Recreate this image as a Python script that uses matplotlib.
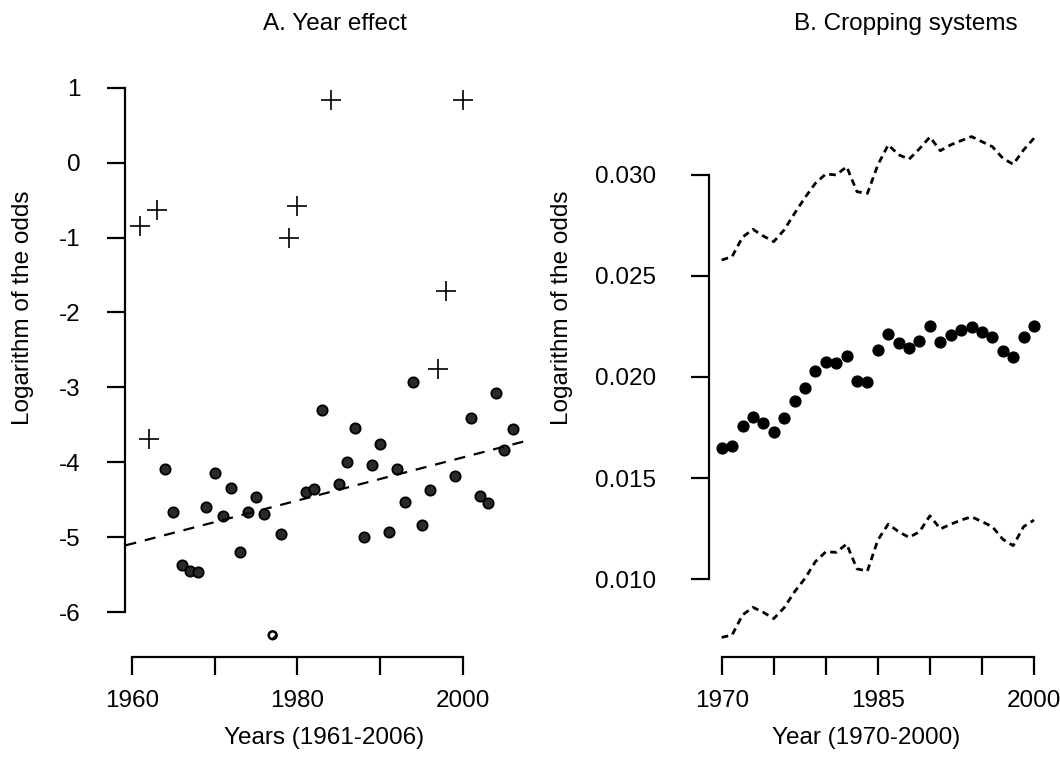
import matplotlib
matplotlib.use('Agg')
import matplotlib.pyplot as plt
import numpy as np

plt.rcParams['font.family'] = ['Liberation Sans', 'DejaVu Sans']
plt.rcParams['axes.unicode_minus'] = False

# A. Year effect (1961-2006)
years_a = np.arange(1961, 2007)
log_odds = [-0.84, -3.69, -0.63, -4.09, -4.67, -5.37, -5.45, -5.47, -4.60, -4.14,
            -4.72, -4.35, -5.20, -4.66, -4.47, -4.69, -6.31, -4.96, -1.00, -0.58,
            -4.40, -4.36, -3.30, 0.83, -4.29, -4.00, -3.54, -5.00, -4.04, -3.75,
            -4.93, -4.09, -4.53, -2.93, -4.84, -4.37, -2.75, -1.72, -4.19, 0.84,
            -3.41, -4.45, -4.54, -3.08, -3.84, -3.55]
outlier_years = [1961, 1962, 1963, 1979, 1980, 1984, 1997, 1998, 2000]
hollow_years = [1977]
trend_intercept_1960 = -5.087
trend_slope = 0.0288

# B. Cropping systems (1970-2000)
years_b = np.arange(1970, 2001)
crop_mid = [0.01650, 0.01660, 0.01756, 0.01800, 0.01774, 0.01729, 0.01796, 0.01883,
            0.01946, 0.02030, 0.02074, 0.02068, 0.02106, 0.01982, 0.01974, 0.02134,
            0.02211, 0.02167, 0.02142, 0.02178, 0.02254, 0.02173, 0.02206, 0.02231,
            0.02249, 0.02223, 0.02198, 0.02129, 0.02101, 0.02197, 0.02254]
crop_low = [0.00711, 0.00723, 0.00822, 0.00860, 0.00835, 0.00804, 0.00858, 0.00937,
            0.01003, 0.01086, 0.01135, 0.01132, 0.01173, 0.01050, 0.01040, 0.01193,
            0.01272, 0.01234, 0.01206, 0.01234, 0.01313, 0.01248, 0.01271, 0.01292,
            0.01308, 0.01284, 0.01259, 0.01197, 0.01165, 0.01259, 0.01292]
crop_up = [0.02579, 0.02596, 0.02692, 0.02731, 0.02698, 0.02670, 0.02728, 0.02810,
           0.02888, 0.02959, 0.03005, 0.03000, 0.03041, 0.02917, 0.02909, 0.03050,
           0.03149, 0.03100, 0.03078, 0.03130, 0.03188, 0.03120, 0.03149, 0.03170,
           0.03190, 0.03165, 0.03140, 0.03083, 0.03053, 0.03124, 0.03182]

W, H = 1060, 762
fig = plt.figure(figsize=(W / 100, H / 100), dpi=100)


def px_axes(left, right, top, bottom):
    return fig.add_axes([left / W, 1 - bottom / H, (right - left) / W, (bottom - top) / H])


def r_style(ax, xb, yb, ypad):
    for s in ['top', 'right']:
        ax.spines[s].set_visible(False)
    for s in ['left', 'bottom']:
        ax.spines[s].set_linewidth(1.6)
    ax.spines['bottom'].set_bounds(*xb)
    ax.spines['left'].set_bounds(*yb)
    ax.tick_params(axis='both', direction='out', length=13, width=1.6, labelsize=17.5)
    ax.tick_params(axis='x', pad=11)
    ax.tick_params(axis='y', pad=ypad)


# ---- panel A ----
axA = px_axes(125.4, 527.5, 78, 657)
yrs = np.array(years_a)
vals = np.array(log_odds)
is_out = np.isin(yrs, outlier_years)
is_hol = np.isin(yrs, hollow_years)
is_fill = ~is_out & ~is_hol

axA.plot(yrs[is_out], vals[is_out], linestyle='none', marker='+', ms=15,
         mew=1.2, color='black')
axA.plot(yrs[is_fill], vals[is_fill], linestyle='none', marker='o', ms=7.4,
         mfc='#2a2a2a', mec='black', mew=1.3)
axA.scatter(yrs[is_hol], vals[is_hol], s=32, facecolor='white', edgecolor='black',
            linewidth=1.8, hatch='///', zorder=3)
axA.axline((1960, trend_intercept_1960), slope=trend_slope, color='black',
           linewidth=1.6, dashes=(5, 4))

axA.set_xlim(1959.2, 2007.8)
axA.set_ylim(-6.6, 1.13)
axA.set_xticks([1960, 1970, 1980, 1990, 2000])
axA.set_xticklabels(['1960', '', '1980', '', '2000'])
axA.set_yticks([1, 0, -1, -2, -3, -4, -5, -6])
r_style(axA, (1960, 2000), (-6, 1), 19)

# ---- panel B ----
axB = px_axes(709.2, 1046.5, 78, 657)
axB.plot(years_b, crop_mid, linestyle='none', marker='o', ms=7.8, color='black')
axB.plot(years_b, crop_up, color='black', linewidth=2.0, dashes=(2.4, 1.7))
axB.plot(years_b, crop_low, color='black', linewidth=2.0, dashes=(2.4, 1.7))

axB.set_xlim(1968.8, 2001.2)
axB.set_ylim(0.00614, 0.0348)
axB.set_xticks([1970, 1975, 1980, 1985, 1990, 1995, 2000])
axB.set_xticklabels(['1970', '', '', '1985', '', '', '2000'])
axB.set_yticks([0.010, 0.015, 0.020, 0.025, 0.030])
axB.set_yticklabels(['0.010', '0.015', '0.020', '0.025', '0.030'])
r_style(axB, (1970, 2000), (0.010, 0.030), 25)

# ---- titles and axis labels ----
fs = 17.5
fig.text(335 / W, 1 - 24 / H, 'A. Year effect', ha='center', va='center', fontsize=fs)
fig.text(906 / W, 1 - 24 / H, 'B. Cropping systems', ha='center', va='center', fontsize=fs)
fig.text(324 / W, 1 - 738 / H, 'Years (1961-2006)', ha='center', va='center', fontsize=fs)
fig.text(866 / W, 1 - 738 / H, 'Year (1970-2000)', ha='center', va='center', fontsize=fs)
fig.text(23 / W, 1 - 308 / H, 'Logarithm of the odds', ha='center', va='center',
         rotation=90, fontsize=fs)
fig.text(562 / W, 1 - 308 / H, 'Logarithm of the odds', ha='center', va='center',
         rotation=90, fontsize=fs)

fig.savefig('out.png', dpi=100)
